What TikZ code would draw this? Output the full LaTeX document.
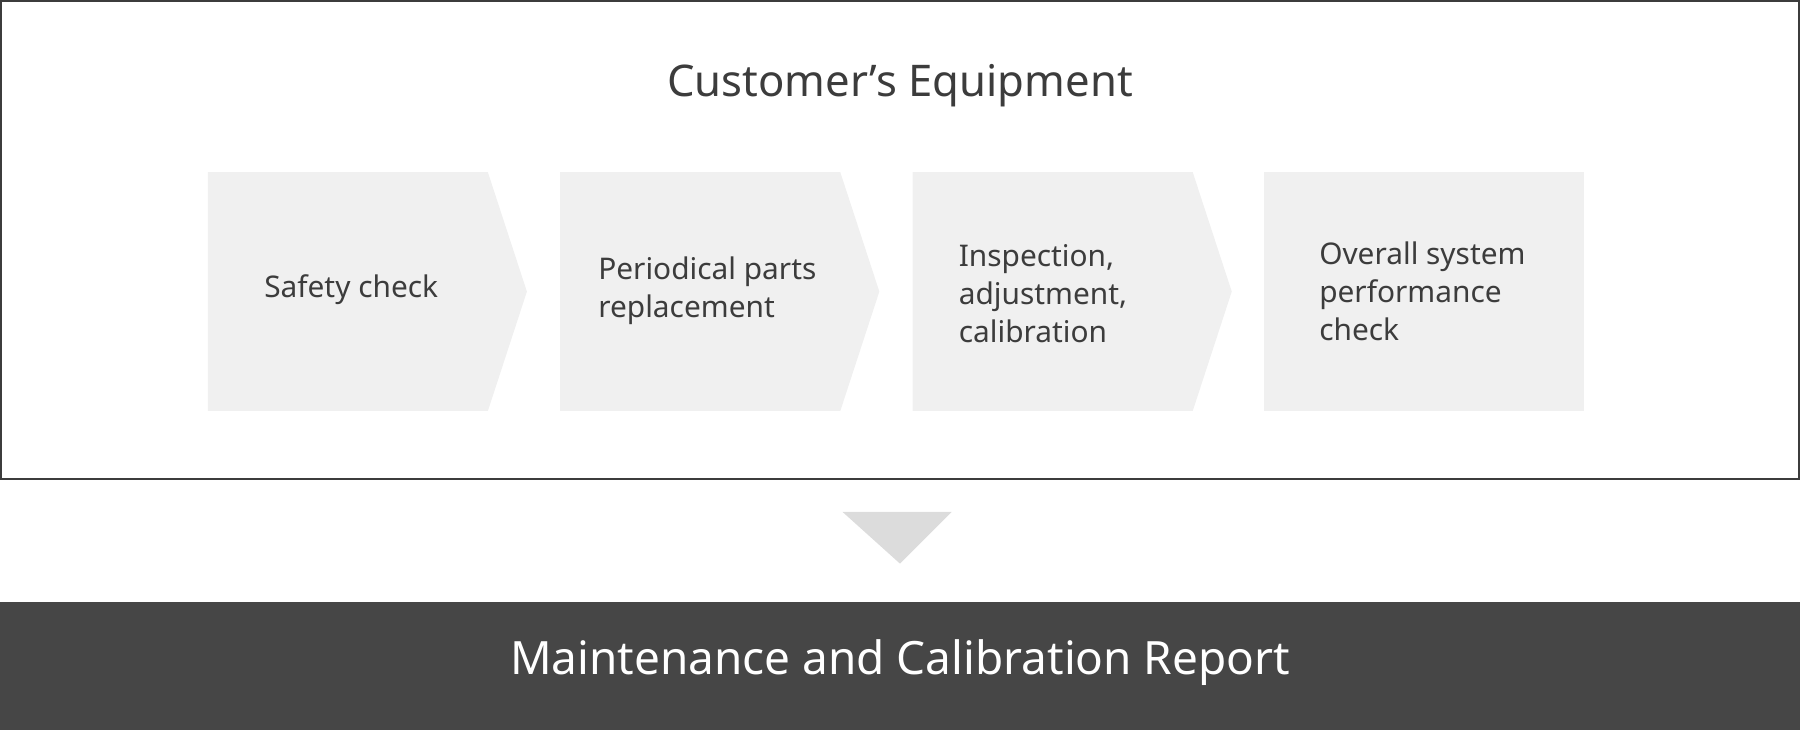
\documentclass[tikz,border=0pt]{standalone}
\usepackage{fontspec}
\setmainfont{Noto Sans}
\definecolor{txt}{HTML}{3C3C3C}
\definecolor{chev}{HTML}{F0F0F0}
\definecolor{tri}{HTML}{DCDCDC}
\definecolor{bar}{HTML}{464646}
\begin{document}
\begin{tikzpicture}[x=1pt,y=-1pt,
  lbl/.style={anchor=west,align=left,text=txt,font=\fontsize{26}{33}\selectfont,inner sep=0pt}]
\useasboundingbox (0,0) rectangle (1568,636);
\draw[color=txt,line width=1.5pt] (1,1) rectangle (1567,417);
\node[text=txt,font=\fontsize{38}{44}\selectfont] (title) at (784,75) {Customer's Equipment};
\foreach \x/\n in {181/a,488/b,795/c}{
  \fill[chev] (\x,150) -- (\x+244,150) -- (\x+278,254) -- (\x+244,358) -- (\x,358) -- cycle;
}
\fill[chev] (1101,150) rectangle (1380,358);
\node[lbl] (s1) at (230,252) {Safety check};
\node[lbl] (s2) at (521,253) {Periodical parts\\replacement};
\node[lbl] (s3) at (835,256) {Inspection,\\adjustment,\\calibration};
\node[lbl] (s4) at (1149,254) {Overall system\\performance\\check};
\fill[tri] (734,446) -- (829,446) -- (784,491) -- cycle;
\fill[bar] (0,524) rectangle (1568,636);
\node[text=white,font=\fontsize{40}{46}\selectfont] (rep) at (784,577) {Maintenance and Calibration Report};
\end{tikzpicture}
\end{document}
